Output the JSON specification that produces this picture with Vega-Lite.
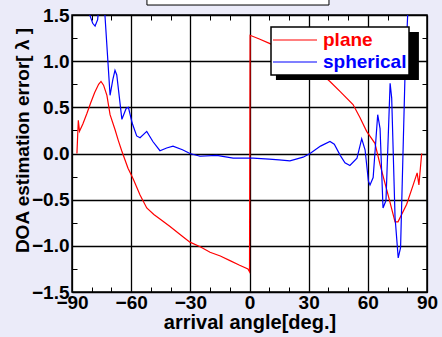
{
  "$schema": "https://vega.github.io/schema/vega-lite/v6.json",
  "width": 355,
  "height": 277,
  "autosize": {"type": "none"},
  "padding": {"left": 72, "top": 15, "right": 15, "bottom": 45},
  "background": "#ebebf9",
  "config": {
    "view": {"stroke": "black", "strokeWidth": 1.5, "fill": "white"},
    "font": "Liberation Sans",
    "axis": {
      "labelFont": "Liberation Sans",
      "labelFontWeight": "bold",
      "labelFontSize": 19,
      "labelColor": "black",
      "titleFont": "Liberation Sans",
      "titleFontWeight": "bold",
      "titleColor": "black",
      "domain": false,
      "tickColor": "black",
      "tickWidth": 1,
      "tickSize": -5,
      "gridColor": "black",
      "gridWidth": 1.3,
      "labelOverlap": false,
      "labelBound": false,
      "labelFlush": false
    }
  },
  "datasets": {
    "curves": [
      {"series": "plane", "angle": -87.5, "value": 0.0},
      {"series": "plane", "angle": -86.8, "value": 0.36},
      {"series": "plane", "angle": -86.2, "value": 0.24},
      {"series": "plane", "angle": -84.5, "value": 0.32},
      {"series": "plane", "angle": -82.5, "value": 0.43},
      {"series": "plane", "angle": -80.5, "value": 0.55},
      {"series": "plane", "angle": -78.5, "value": 0.66},
      {"series": "plane", "angle": -76.5, "value": 0.75},
      {"series": "plane", "angle": -75.3, "value": 0.78},
      {"series": "plane", "angle": -74.0, "value": 0.74},
      {"series": "plane", "angle": -72.3, "value": 0.63},
      {"series": "plane", "angle": -70.7, "value": 0.42},
      {"series": "plane", "angle": -68.2, "value": 0.26},
      {"series": "plane", "angle": -66.5, "value": 0.14},
      {"series": "plane", "angle": -64.8, "value": 0.03},
      {"series": "plane", "angle": -61.6, "value": -0.16},
      {"series": "plane", "angle": -58.9, "value": -0.28},
      {"series": "plane", "angle": -55.5, "value": -0.45},
      {"series": "plane", "angle": -52.1, "value": -0.59},
      {"series": "plane", "angle": -48.5, "value": -0.66},
      {"series": "plane", "angle": -45.4, "value": -0.71},
      {"series": "plane", "angle": -40.3, "value": -0.79},
      {"series": "plane", "angle": -34.4, "value": -0.89},
      {"series": "plane", "angle": -30.2, "value": -0.96},
      {"series": "plane", "angle": -25.0, "value": -1.01},
      {"series": "plane", "angle": -20.0, "value": -1.07},
      {"series": "plane", "angle": -14.8, "value": -1.11},
      {"series": "plane", "angle": -9.9, "value": -1.16},
      {"series": "plane", "angle": -5.0, "value": -1.21},
      {"series": "plane", "angle": -0.8, "value": -1.25},
      {"series": "plane", "angle": 0.0, "value": -1.28},
      {"series": "plane", "angle": 0.3, "value": 1.28},
      {"series": "plane", "angle": 5.0, "value": 1.24},
      {"series": "plane", "angle": 10.4, "value": 1.19},
      {"series": "plane", "angle": 20.0, "value": 1.09},
      {"series": "plane", "angle": 30.0, "value": 0.96},
      {"series": "plane", "angle": 36.0, "value": 0.87},
      {"series": "plane", "angle": 40.8, "value": 0.78},
      {"series": "plane", "angle": 46.0, "value": 0.67},
      {"series": "plane", "angle": 52.5, "value": 0.53},
      {"series": "plane", "angle": 56.0, "value": 0.39},
      {"series": "plane", "angle": 59.4, "value": 0.24},
      {"series": "plane", "angle": 63.6, "value": 0.11},
      {"series": "plane", "angle": 66.2, "value": -0.12},
      {"series": "plane", "angle": 70.3, "value": -0.45},
      {"series": "plane", "angle": 73.8, "value": -0.74},
      {"series": "plane", "angle": 75.3, "value": -0.74},
      {"series": "plane", "angle": 79.7, "value": -0.55},
      {"series": "plane", "angle": 83.0, "value": -0.34},
      {"series": "plane", "angle": 85.0, "value": -0.21},
      {"series": "plane", "angle": 85.9, "value": -0.34},
      {"series": "plane", "angle": 87.3, "value": 0.0},
      {"series": "spherical", "angle": -84.0, "value": 2.4},
      {"series": "spherical", "angle": -81.0, "value": 1.5},
      {"series": "spherical", "angle": -79.5, "value": 1.41},
      {"series": "spherical", "angle": -78.3, "value": 1.38},
      {"series": "spherical", "angle": -77.0, "value": 1.45},
      {"series": "spherical", "angle": -76.3, "value": 1.6},
      {"series": "spherical", "angle": -75.0, "value": 1.85},
      {"series": "spherical", "angle": -73.6, "value": 1.6},
      {"series": "spherical", "angle": -70.7, "value": 0.63},
      {"series": "spherical", "angle": -69.3, "value": 0.8},
      {"series": "spherical", "angle": -68.2, "value": 0.9},
      {"series": "spherical", "angle": -67.3, "value": 0.85},
      {"series": "spherical", "angle": -64.7, "value": 0.37},
      {"series": "spherical", "angle": -62.5, "value": 0.49},
      {"series": "spherical", "angle": -61.4, "value": 0.5},
      {"series": "spherical", "angle": -59.5, "value": 0.33},
      {"series": "spherical", "angle": -57.2, "value": 0.19},
      {"series": "spherical", "angle": -55.5, "value": 0.17},
      {"series": "spherical", "angle": -52.1, "value": 0.24},
      {"series": "spherical", "angle": -49.0, "value": 0.13},
      {"series": "spherical", "angle": -45.4, "value": 0.03},
      {"series": "spherical", "angle": -42.0, "value": 0.06},
      {"series": "spherical", "angle": -38.8, "value": 0.08},
      {"series": "spherical", "angle": -34.0, "value": 0.04},
      {"series": "spherical", "angle": -30.2, "value": 0.0},
      {"series": "spherical", "angle": -25.1, "value": -0.03},
      {"series": "spherical", "angle": -16.6, "value": -0.02},
      {"series": "spherical", "angle": -8.3, "value": -0.05},
      {"series": "spherical", "angle": 1.8, "value": -0.05},
      {"series": "spherical", "angle": 10.0, "value": -0.06},
      {"series": "spherical", "angle": 15.0, "value": -0.07},
      {"series": "spherical", "angle": 20.5, "value": -0.08},
      {"series": "spherical", "angle": 27.2, "value": -0.04},
      {"series": "spherical", "angle": 30.7, "value": 0.0},
      {"series": "spherical", "angle": 36.0, "value": 0.08},
      {"series": "spherical", "angle": 40.8, "value": 0.13},
      {"series": "spherical", "angle": 43.0, "value": 0.1},
      {"series": "spherical", "angle": 46.0, "value": -0.02},
      {"series": "spherical", "angle": 48.4, "value": -0.1},
      {"series": "spherical", "angle": 50.9, "value": -0.13},
      {"series": "spherical", "angle": 54.5, "value": -0.05},
      {"series": "spherical", "angle": 56.9, "value": 0.16},
      {"series": "spherical", "angle": 58.6, "value": 0.04},
      {"series": "spherical", "angle": 60.3, "value": -0.3},
      {"series": "spherical", "angle": 61.1, "value": -0.34},
      {"series": "spherical", "angle": 62.7, "value": -0.26},
      {"series": "spherical", "angle": 65.0, "value": 0.42},
      {"series": "spherical", "angle": 66.2, "value": 0.27},
      {"series": "spherical", "angle": 67.7, "value": -0.59},
      {"series": "spherical", "angle": 69.2, "value": -0.51},
      {"series": "spherical", "angle": 71.3, "value": 0.76},
      {"series": "spherical", "angle": 72.1, "value": 0.6},
      {"series": "spherical", "angle": 73.8, "value": -0.69},
      {"series": "spherical", "angle": 75.4, "value": -1.13},
      {"series": "spherical", "angle": 76.6, "value": -1.02},
      {"series": "spherical", "angle": 78.8, "value": 0.81},
      {"series": "spherical", "angle": 80.2, "value": 1.5},
      {"series": "spherical", "angle": 81.5, "value": 2.2}
    ],
    "titlebox": [{"x1": -52.0, "x2": 40.3, "y1": 1.608, "y2": 1.8}],
    "shadow": [{"x1": 13.4, "x2": 85.9, "y1": 0.796, "y2": 1.316}]
  },
  "layer": [
    {
      "data": {"name": "titlebox"},
      "mark": {"type": "rect", "clip": false, "fill": "white", "stroke": "black", "strokeWidth": 1},
      "encoding": {
        "x": {"field": "x1", "type": "quantitative",
              "scale": {"domain": [-90, 90], "nice": false, "zero": false},
              "axis": {"orient": "top", "values": [-80,-70,-60,-50,-40,-30,-20,-10,0,10,20,30,40,50,60,70,80], "labels": false, "grid": false, "title": null}},
        "x2": {"field": "x2"},
        "y": {"field": "y1", "type": "quantitative",
              "scale": {"domain": [-1.5, 1.5], "nice": false, "zero": false},
              "axis": {"orient": "right", "values": [-1.25,-1,-0.75,-0.5,-0.25,0,0.25,0.5,0.75,1,1.25], "labels": false, "grid": false, "title": null}},
        "y2": {"field": "y2"}
      }
    },
    {
      "data": {"name": "curves"},
      "mark": {"type": "line", "clip": true, "strokeWidth": 1.2},
      "encoding": {
        "x": {"field": "angle", "type": "quantitative",
              "scale": {"domain": [-90, 90], "nice": false, "zero": false},
              "axis": {"orient": "bottom", "grid": true,
                       "values": [-90,-80,-70,-60,-50,-40,-30,-20,-10,0,10,20,30,40,50,60,70,80,90],
                       "labelExpr": "datum.value % 30 == 0 ? format(datum.value, 'd') : ''",
                       "gridOpacity": {"condition": {"test": "datum.value % 30 == 0", "value": 1}, "value": 0},
                       "labelPadding": 6,
                       "title": "arrival angle[deg.]",
                       "titleFontSize": 20,
                       "titlePadding": 0}},
        "y": {"field": "value", "type": "quantitative",
              "scale": {"domain": [-1.5, 1.5], "nice": false, "zero": false},
              "axis": {"orient": "left", "grid": true,
                       "values": [-1.5,-1.25,-1,-0.75,-0.5,-0.25,0,0.25,0.5,0.75,1,1.25,1.5],
                       "labelExpr": "abs(datum.value*2 - round(datum.value*2)) < 0.001 ? format(datum.value, '.1f') : ''",
                       "gridOpacity": {"condition": {"test": "abs(datum.value*2 - round(datum.value*2)) < 0.001", "value": 1}, "value": 0},
                       "labelPadding": 8,
                       "title": "DOA estimation error[ λ ]",
                       "titleFontSize": 19,
                       "titleX": -50,
                       "titleY": 125,
                       "titleBaseline": "middle"}},
        "color": {"field": "series", "type": "nominal",
                  "scale": {"domain": ["plane", "spherical"], "range": ["#ff0000", "#0000ff"]},
                  "legend": {"orient": "none", "legendX": 199, "legendY": 12, "title": null,
                             "symbolType": "stroke", "symbolSize": 1936, "symbolStrokeWidth": 1.2,
                             "symbolOffset": -1, "clipHeight": 22,
                             "labelFont": "Liberation Sans", "labelFontWeight": "bold", "labelFontSize": 19,
                             "labelExpr": "datum.label + '\u00a0'",
                             "labelOffset": 5, "padding": 2, "rowPadding": 0,
                             "fillColor": "white", "strokeColor": "black",
                             "encode": {
                               "legend": {"update": {"strokeWidth": {"value": 1.5}}},
                               "labels": {"update": {"fill": {"signal": "datum.value === 'plane' ? '#ff0000' : '#0000ff'"}}}}}}
      }
    },
    {
      "data": {"name": "shadow"},
      "mark": {"type": "rect", "fill": "black", "clip": false},
      "encoding": {
        "x": {"field": "x1", "type": "quantitative", "scale": {"domain": [-90, 90], "nice": false, "zero": false}, "axis": null},
        "x2": {"field": "x2"},
        "y": {"field": "y1", "type": "quantitative", "scale": {"domain": [-1.5, 1.5], "nice": false, "zero": false}, "axis": null},
        "y2": {"field": "y2"}
      }
    }
  ],
  "resolve": {"scale": {"x": "independent", "y": "independent", "color": "independent"}, "axis": {"x": "independent", "y": "independent"}}
}
